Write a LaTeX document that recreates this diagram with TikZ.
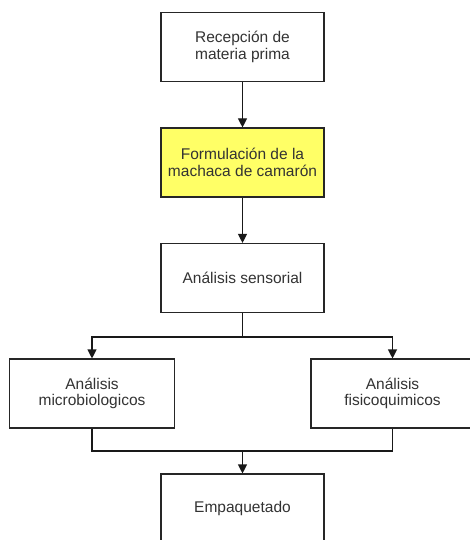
\documentclass[tikz,border=0pt]{standalone}
\usepackage{fontspec}
\setmainfont{Liberation Sans}
\usetikzlibrary{arrows.meta}
\definecolor{boxyellow}{HTML}{FFFF66}
\definecolor{txtgray}{HTML}{333333}
\begin{document}
\begin{tikzpicture}[x=1pt,y=-1pt,
  box/.style={draw=black!85, line width=1.1pt, minimum width=163pt, minimum height=69pt,
    align=center, font=\fontsize{15.5}{16.5}\selectfont, text=txtgray, inner sep=2pt},
  ln/.style={draw=black!90, line width=1.1pt},
  arr/.style={ln, -{Triangle[width=9pt,length=9pt]}}]
\useasboundingbox (0,0) rectangle (470,540);
\fill[white] (0,0) rectangle (470,540);
\clip (0,0) rectangle (470,540);
\node[box] (a) at (242.5,47) {Recepción de\\materia prima};
\node[box, fill=boxyellow] (b) at (242.5,162.5) {Formulación de la\\machaca de camarón};
\node[box] (c) at (242.5,278) {Análisis sensorial};
\node[box, minimum width=165pt] (d) at (92,393.5) {Análisis\\microbiologicos};
\node[box] (e) at (392.5,393.5) {Análisis\\fisicoquimicos};
\node[box] (f) at (242.5,508.5) {Empaquetado};
\draw[arr] (a) -- (b);
\draw[arr] (b) -- (c);
\coordinate (s) at (242.5,337);
\draw[ln] (c.south) -- (s);
\draw[arr] (s) -| (d.north);
\draw[arr] (s) -| (e.north);
\coordinate (m) at (242.5,451);
\draw[ln] (d.south) |- (m) -| (e.south);
\draw[arr] (m) -- (f.north);
\end{tikzpicture}
\end{document}
